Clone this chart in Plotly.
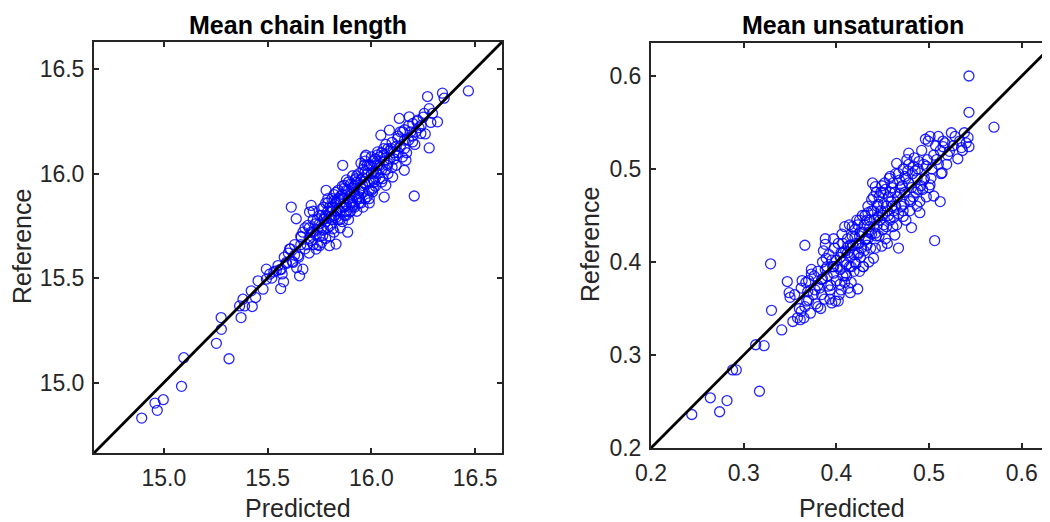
import plotly.graph_objects as go

# ---------------- data ----------------
chain_pred = [
    14.893, 14.957, 14.968, 14.997, 15.085, 15.096, 15.253, 15.277, 15.276, 15.314,
    15.365, 15.372, 15.381, 15.389, 15.426, 15.421, 15.442, 15.454, 15.478, 15.494,
    15.494, 15.510, 15.542, 15.566, 15.563, 15.577, 15.590, 15.606, 15.614, 15.638,
    15.622, 15.654, 15.670, 15.646, 15.662, 15.694, 15.710, 15.702, 15.718, 15.734,
    15.750, 15.766, 15.774, 15.790, 15.782, 15.798, 15.830, 15.814, 15.822, 15.846,
    15.862, 15.870, 15.886, 15.894, 15.910, 15.878, 15.918, 15.926, 15.942, 15.958,
    15.966, 15.974, 15.990, 16.006, 16.014, 16.022, 16.030, 16.046, 16.054, 16.062,
    16.070, 16.078, 16.087, 16.095, 16.103, 16.119, 16.127, 16.135, 16.151, 16.159,
    16.167, 16.183, 16.207, 16.199, 16.215, 16.239, 16.223, 16.255, 16.271, 16.279,
    16.279, 16.287, 16.295, 16.319, 16.343, 16.351, 16.468,
    15.66, 15.68, 15.70, 15.71, 15.72, 15.73, 15.74, 15.75, 15.75, 15.76,
    15.77, 15.77, 15.78, 15.78, 15.79, 15.79, 15.80, 15.80, 15.81, 15.81,
    15.82, 15.82, 15.83, 15.83, 15.84, 15.84, 15.85, 15.85, 15.86, 15.86,
    15.87, 15.87, 15.88, 15.88, 15.89, 15.89, 15.90, 15.90, 15.91, 15.91,
    15.92, 15.92, 15.93, 15.93, 15.94, 15.94, 15.95, 15.95, 15.96, 15.96,
    15.97, 15.97, 15.98, 15.98, 15.99, 15.99, 16.00, 16.00, 16.01, 16.01,
    16.02, 16.02, 16.03, 16.03, 16.04, 16.05, 16.05, 16.06, 16.07, 16.08,
    16.09, 16.10, 16.11, 16.12, 16.13, 16.14, 16.16, 16.17, 16.18, 16.20,
    16.21, 16.23, 16.25, 16.26, 15.60, 15.62, 15.63, 15.64, 15.58, 15.55,
    15.52, 15.53, 15.57, 15.61, 15.65, 15.67, 15.69, 15.70, 15.74, 15.76,
    15.72, 15.80, 15.85, 15.88, 15.90, 15.92, 15.95, 15.97, 16.00, 16.02,
    15.86, 15.84, 15.82, 15.78, 15.76, 15.93, 16.04, 16.06, 16.08, 16.10,
    16.12, 16.15, 16.16, 16.19, 16.22, 15.99, 15.96, 15.94,
    15.68, 15.70, 15.72, 15.73, 15.75, 15.76, 15.78, 15.79, 15.80, 15.81,
    15.82, 15.83, 15.84, 15.85, 15.86, 15.87, 15.88, 15.89, 15.90, 15.91,
    15.92, 15.93, 15.94, 15.95, 15.96, 15.97, 15.98, 15.99, 16.00, 16.01,
    16.02, 16.03, 16.04, 16.05, 16.06, 16.07, 16.08, 16.09, 16.11, 16.13,
    16.14, 16.16, 16.18, 16.20, 16.24, 15.89, 15.91, 15.87, 15.85, 15.83,
    15.81, 15.77, 15.74, 15.71, 15.66, 15.63, 15.59, 15.56, 15.97, 16.01,
]
chain_ref = [
    14.830, 14.902, 14.867, 14.918, 14.982, 15.119, 15.188, 15.255, 15.311, 15.114,
    15.367, 15.311, 15.399, 15.367, 15.364, 15.439, 15.407, 15.487, 15.447, 15.495,
    15.543, 15.519, 15.535, 15.543, 15.450, 15.482, 15.575, 15.639, 15.840, 15.784,
    15.575, 15.511, 15.543, 15.607, 15.696, 15.752, 15.848, 15.816, 15.720, 15.639,
    15.655, 15.704, 15.784, 15.880, 15.920, 15.655, 15.663, 15.736, 15.800, 15.880,
    16.040, 15.944, 15.720, 15.816, 15.848, 15.800, 15.912, 15.976, 15.880, 15.944,
    16.040, 16.088, 15.880, 15.912, 15.960, 16.008, 16.104, 16.184, 15.976, 15.888,
    15.944, 16.040, 16.208, 16.120, 15.984, 16.088, 16.168, 16.264, 16.200, 16.016,
    16.064, 16.272, 15.893, 16.152, 16.200, 16.192, 16.256, 16.288, 16.369, 16.123,
    16.311, 16.245, 16.288, 16.248, 16.385, 16.361, 16.396,
    15.70, 15.64, 15.74, 15.68, 15.78, 15.71, 15.66, 15.76, 15.70, 15.80,
    15.73, 15.84, 15.77, 15.69, 15.82, 15.86, 15.75, 15.79, 15.88, 15.84,
    15.72, 15.80, 15.86, 15.91, 15.78, 15.83, 15.89, 15.74, 15.84, 15.94,
    15.80, 15.88, 15.92, 15.85, 15.96, 15.78, 15.90, 15.86, 15.93, 15.99,
    15.84, 15.90, 15.96, 15.88, 16.00, 15.92, 15.86, 15.97, 16.02, 15.91,
    15.95, 16.06, 15.89, 16.00, 15.96, 16.04, 15.92, 16.08, 16.01, 15.97,
    16.05, 15.94, 16.09, 16.00, 16.04, 16.10, 15.96, 16.06, 16.02, 16.12,
    16.07, 16.15, 16.10, 16.04, 16.18, 16.13, 16.21, 16.10, 16.16, 16.24,
    16.14, 16.22, 16.27, 16.19, 15.62, 15.58, 15.66, 15.55, 15.60, 15.56,
    15.50, 15.53, 15.52, 15.64, 15.60, 15.72, 15.66, 15.62, 15.73, 15.67,
    15.82, 15.70, 15.82, 15.82, 15.95, 15.97, 16.05, 16.08, 16.00, 16.07,
    15.77, 15.92, 15.87, 15.86, 15.83, 15.82, 15.98, 16.12, 16.00, 16.03,
    16.13, 16.08, 16.16, 16.20, 16.25, 15.86, 15.84, 15.86,
    15.74, 15.69, 15.66, 15.76, 15.80, 15.74, 15.80, 15.74, 15.84, 15.78,
    15.90, 15.82, 15.88, 15.78, 15.90, 15.84, 15.97, 15.88, 15.82, 15.87,
    15.94, 15.99, 15.89, 15.93, 15.98, 15.88, 16.04, 15.92, 16.04, 16.06,
    15.98, 16.04, 16.08, 16.02, 16.09, 16.14, 16.05, 16.11, 16.07, 16.10,
    16.20, 16.12, 16.23, 16.18, 16.23, 15.92, 15.84, 15.93, 15.86, 15.79,
    15.82, 15.78, 15.78, 15.72, 15.66, 15.61, 15.57, 15.54, 16.01, 15.93,
]

unsat_pred = [
    0.244, 0.264, 0.274, 0.282, 0.288, 0.292, 0.313, 0.322, 0.317, 0.329,
    0.330, 0.341, 0.347, 0.349, 0.350, 0.353, 0.361, 0.362, 0.366, 0.367,
    0.370, 0.373, 0.377, 0.380, 0.384, 0.388, 0.388, 0.389, 0.391, 0.395,
    0.397, 0.402, 0.404, 0.407, 0.409, 0.411, 0.413, 0.415, 0.416, 0.420,
    0.423, 0.424, 0.425, 0.429, 0.431, 0.434, 0.438, 0.440, 0.442, 0.442,
    0.445, 0.449, 0.451, 0.454, 0.458, 0.460, 0.463, 0.465, 0.467, 0.469,
    0.472, 0.474, 0.478, 0.479, 0.481, 0.483, 0.487, 0.488, 0.490, 0.494,
    0.496, 0.497, 0.501, 0.501, 0.505, 0.506, 0.510, 0.512, 0.514, 0.515,
    0.522, 0.524, 0.531, 0.535, 0.538, 0.542, 0.543, 0.543, 0.543, 0.570,
    0.370, 0.375, 0.380, 0.382, 0.385, 0.387, 0.390, 0.392, 0.394, 0.396,
    0.398, 0.400, 0.400, 0.402, 0.404, 0.405, 0.406, 0.408, 0.410, 0.410,
    0.412, 0.414, 0.415, 0.416, 0.418, 0.420, 0.420, 0.422, 0.424, 0.425,
    0.426, 0.428, 0.430, 0.430, 0.432, 0.434, 0.435, 0.436, 0.438, 0.440,
    0.440, 0.442, 0.444, 0.445, 0.446, 0.448, 0.450, 0.450, 0.452, 0.454,
    0.455, 0.456, 0.458, 0.460, 0.462, 0.464, 0.465, 0.466, 0.468, 0.470,
    0.472, 0.474, 0.475, 0.476, 0.478, 0.480, 0.482, 0.484, 0.486, 0.488,
    0.490, 0.492, 0.495, 0.498, 0.500, 0.503, 0.507, 0.510, 0.513, 0.517,
    0.520, 0.526, 0.533, 0.540, 0.355, 0.360, 0.362, 0.365, 0.368, 0.372,
    0.376, 0.378, 0.384, 0.386, 0.393, 0.397, 0.403, 0.407, 0.411, 0.413,
    0.417, 0.419, 0.423, 0.427, 0.429, 0.433, 0.437, 0.439, 0.443, 0.447,
    0.451, 0.453, 0.457, 0.461, 0.463, 0.467, 0.471, 0.473, 0.477, 0.479,
    0.483, 0.487, 0.491, 0.497, 0.494, 0.505, 0.512, 0.455, 0.445, 0.435,
    0.425, 0.415, 0.405, 0.395, 0.388,
    0.380, 0.385, 0.390, 0.393, 0.397, 0.401, 0.404, 0.407, 0.409, 0.412,
    0.414, 0.417, 0.419, 0.421, 0.423, 0.426, 0.428, 0.431, 0.433, 0.436,
    0.438, 0.441, 0.443, 0.446, 0.448, 0.451, 0.453, 0.456, 0.459, 0.461,
    0.464, 0.467, 0.469, 0.472, 0.475, 0.478, 0.481, 0.485, 0.489, 0.493,
    0.499, 0.502, 0.508, 0.515, 0.519, 0.528, 0.536, 0.373, 0.369, 0.366,
    0.363, 0.358, 0.383, 0.399, 0.421, 0.434, 0.444, 0.449, 0.458, 0.462,
]
unsat_ref = [
    0.236, 0.254, 0.239, 0.251, 0.284, 0.284, 0.311, 0.310, 0.261, 0.398,
    0.348, 0.327, 0.379, 0.367, 0.362, 0.336, 0.338, 0.347, 0.418, 0.378,
    0.359, 0.387, 0.370, 0.352, 0.381, 0.425, 0.419, 0.404, 0.374, 0.356,
    0.395, 0.358, 0.376, 0.410, 0.438, 0.385, 0.417, 0.367, 0.395, 0.427,
    0.371, 0.410, 0.445, 0.395, 0.424, 0.453, 0.467, 0.404, 0.481, 0.431,
    0.449, 0.417, 0.474, 0.438, 0.492, 0.460, 0.429, 0.506, 0.415, 0.474,
    0.449, 0.492, 0.517, 0.467, 0.437, 0.503, 0.460, 0.478, 0.453, 0.488,
    0.532, 0.503, 0.483, 0.535, 0.471, 0.423, 0.535, 0.465, 0.496, 0.524,
    0.519, 0.539, 0.511, 0.523, 0.539, 0.534, 0.524, 0.561, 0.600, 0.545,
    0.380, 0.365, 0.390, 0.372, 0.400, 0.360, 0.385, 0.408, 0.375, 0.395,
    0.415, 0.380, 0.402, 0.420, 0.392, 0.370, 0.430, 0.400, 0.412, 0.388,
    0.425, 0.440, 0.405, 0.378, 0.418, 0.435, 0.400, 0.445, 0.420, 0.390,
    0.432, 0.450, 0.412, 0.440, 0.425, 0.460, 0.400, 0.445, 0.430, 0.455,
    0.470, 0.415, 0.440, 0.462, 0.428, 0.475, 0.450, 0.435, 0.485, 0.460,
    0.420, 0.470, 0.445, 0.480, 0.455, 0.495, 0.440, 0.470, 0.488, 0.460,
    0.500, 0.475, 0.445, 0.510, 0.485, 0.465, 0.495, 0.512, 0.475, 0.500,
    0.465, 0.520, 0.490, 0.510, 0.480, 0.500, 0.525, 0.505, 0.495, 0.528,
    0.515, 0.525, 0.530, 0.528, 0.365, 0.350, 0.372, 0.340, 0.358, 0.345,
    0.385, 0.355, 0.365, 0.412, 0.360, 0.425, 0.365, 0.385, 0.397, 0.372,
    0.438, 0.390, 0.408, 0.415, 0.395, 0.445, 0.415, 0.485, 0.475, 0.445,
    0.463, 0.425, 0.490, 0.438, 0.475, 0.452, 0.482, 0.462, 0.498, 0.455,
    0.470, 0.490, 0.482, 0.470, 0.505, 0.515, 0.520, 0.455, 0.448, 0.432,
    0.428, 0.418, 0.410, 0.402, 0.392,
    0.375, 0.382, 0.395, 0.370, 0.388, 0.395, 0.405, 0.420, 0.378, 0.410,
    0.395, 0.428, 0.408, 0.420, 0.440, 0.405, 0.432, 0.450, 0.418, 0.438,
    0.455, 0.445, 0.428, 0.470, 0.455, 0.440, 0.478, 0.450, 0.465, 0.485,
    0.460, 0.495, 0.480, 0.455, 0.490, 0.505, 0.480, 0.498, 0.508, 0.478,
    0.530, 0.490, 0.510, 0.530, 0.505, 0.535, 0.520, 0.392, 0.368, 0.352,
    0.380, 0.340, 0.350, 0.358, 0.398, 0.425, 0.460, 0.482, 0.475, 0.448,
]

chain_ticks = [15.0, 15.5, 16.0, 16.5]
unsat_ticks = [0.2, 0.3, 0.4, 0.5, 0.6]
chain_limits = [14.663, 16.63]
unsat_limits = [0.2, 0.6355]

titles = ["Mean chain length", "Mean unsaturation"]
xlabel = "Predicted"
ylabel = "Reference"

# ---------------- figure ----------------
# The page body has an 8px margin, so the figure is drawn 8px smaller and
# all screen positions below are shifted by -8.
OFF = 8
W, H = 1050 - OFF, 522 - OFF
FONT = "Liberation Sans, Arial, Helvetica, sans-serif"
AX = "#262626"

fig = go.Figure()

marker = dict(symbol="circle-open", size=10, color="rgba(0,0,255,0.85)",
              line=dict(width=1.3, color="rgba(0,0,255,0.85)"))

fig.add_trace(go.Scatter(x=chain_pred, y=chain_ref, mode="markers", marker=marker,
                         xaxis="x", yaxis="y", showlegend=False))
fig.add_trace(go.Scatter(x=chain_limits, y=chain_limits, mode="lines",
                         line=dict(color="black", width=2.8),
                         xaxis="x", yaxis="y", showlegend=False))
fig.add_trace(go.Scatter(x=unsat_pred, y=unsat_ref, mode="markers", marker=marker,
                         xaxis="x2", yaxis="y2", showlegend=False))
fig.add_trace(go.Scatter(x=unsat_limits, y=unsat_limits, mode="lines",
                         line=dict(color="black", width=2.8),
                         xaxis="x2", yaxis="y2", showlegend=False))

# screen-pixel geometry of the two boxes
L = dict(x0=94, x1=502, y0=42, y1=453)
R = dict(x0=651, x1=1050, y0=43, y1=448)

def px(v):
    return (v - OFF) / W

def py(v):
    return 1 - (v - OFF) / H

def dom_x(b):
    return [px(b["x0"]), px(b["x1"])]

def dom_y(b):
    return [py(b["y1"]), py(b["y0"])]

common = dict(showgrid=False, zeroline=False, showline=True, linewidth=2,
              linecolor=AX, ticks="inside", ticklen=5, tickwidth=1.5,
              tickcolor=AX, tickfont=dict(family=FONT, size=23, color=AX),
              tickformat=".1f", fixedrange=True, automargin=False)

unsat_xmax = 0.2 + (R["x1"] - R["x0"]) / 927.0

fig.update_layout(
    width=W, height=H, margin=dict(l=0, r=0, t=0, b=0, autoexpand=False),
    paper_bgcolor="white", plot_bgcolor="white",
    xaxis=dict(domain=dom_x(L), anchor="y", range=chain_limits, tickvals=chain_ticks,
               mirror="ticks", ticklabelstandoff=3, **common),
    yaxis=dict(domain=dom_y(L), anchor="x", range=chain_limits, tickvals=chain_ticks,
               mirror="ticks", ticklabelstandoff=3, **common),
    xaxis2=dict(domain=dom_x(R), anchor="y2", range=[0.2, unsat_xmax], tickvals=unsat_ticks,
                mirror="ticks", ticklabelstandoff=3, **common),
    yaxis2=dict(domain=dom_y(R), anchor="x2", range=unsat_limits, tickvals=unsat_ticks,
                mirror=False, ticklabelstandoff=3, **common),
)

annotations = []
for cx, t in [((94 + 502) / 2, titles[0]), ((651 + 1054) / 2, titles[1])]:
    annotations.append(dict(text="<b>" + t + "</b>", x=px(cx), y=py(25),
                            xref="paper", yref="paper", showarrow=False,
                            xanchor="center", yanchor="middle",
                            font=dict(family=FONT, size=25, color="black")))
for cx in (298, 852):
    annotations.append(dict(text=xlabel, x=px(cx), y=py(508), xref="paper", yref="paper",
                            showarrow=False, xanchor="center", yanchor="middle",
                            font=dict(family=FONT, size=25, color=AX)))
for cx, cy in ((22, 247), (590, 245)):
    annotations.append(dict(text=ylabel, x=px(cx), y=py(cy), xref="paper", yref="paper",
                            showarrow=False, xanchor="center", yanchor="middle",
                            textangle=-90, font=dict(family=FONT, size=25, color=AX)))
fig.update_layout(annotations=annotations)

fig.write_html("out.html")
